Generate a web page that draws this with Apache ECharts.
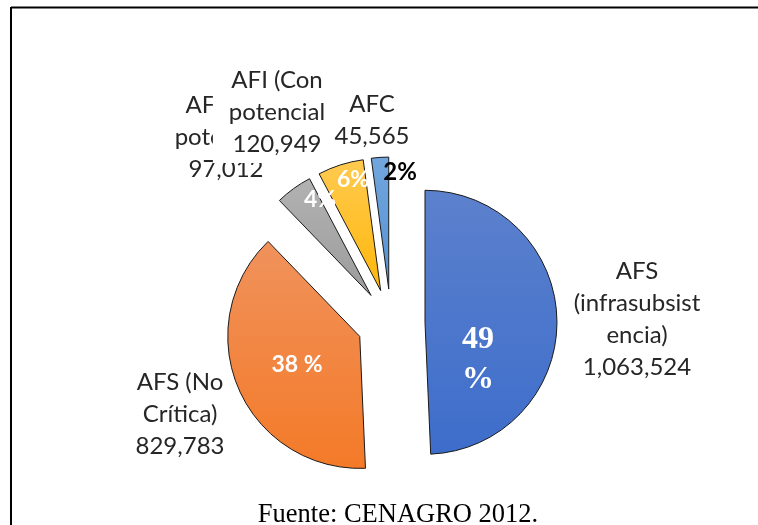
<!DOCTYPE html>
<html>
<head>
<meta charset="utf-8">
<script src="https://cdn.jsdelivr.net/npm/echarts@6/dist/echarts.min.js"></script>
<style>
  html, body { margin: 0; padding: 0; background: #fff; }
  #chart { width: 758px; height: 525px; }
</style>
</head>
<body>
<div id="chart"></div>
<script>
// ---- data ----
const categories = ['AFS\n(infrasubsist\nencia)', 'AFS (No\nCrítica)', 'AFI (Sin\npotencial)', 'AFI (Con\npotencial', 'AFC'];
const values = [1063524, 829783, 97012, 120949, 45565];
const sourceText = 'Fuente: CENAGRO 2012.';

// ---- styles ----
const gradients = [
  ['#5c81cd', '#3d6dcb'],
  ['#f0925c', '#f47a28'],
  ['#b2b2b2', '#9c9c9c'],
  ['#ffca50', '#ffb70a'],
  ['#72a6dd', '#5492d2']
];
const pctColors = ['#fff', '#fff', '#fff', '#fff', '#000'];
const pctFonts = ['Liberation Serif', 'Lato', 'Lato', 'Lato', 'Lato'];
const pctSizes = [32, 23, 23, 23, 24];
const pctPos = [[478, 360], [297, 365], [320, 200], [353, 180], [400, 172]];
const outPos = [[637, 319], [180, 414], [226, 137], [272, 112], [372, 120]];
const outPad = [[0, 0, 0, 0], [0, 0, 0, 0], [0, 0, 0, 0], [2, 6, 4, 16], [2, 6, 2, 6]];

const total = values.reduce((a, b) => a + b, 0);
function pctText(i) {
  const p = Math.round(values[i] / total * 100);
  if (i === 0) return p + '\n%';
  if (i === 1) return p + ' %';
  return p + '%';
}
function grad(c) {
  return { type: 'linear', x: 0, y: 0, x2: 0, y2: 1, colorStops: [{ offset: 0, color: c[0] }, { offset: 1, color: c[1] }] };
}

const mainData = values.map((v, i) => ({
  name: categories[i],
  value: v,
  selected: true,
  itemStyle: { color: grad(gradients[i]) }
}));

const labelData = values.map((v, i) => ({
  name: categories[i],
  value: v,
  label: (i === 3 || i === 4) ? { backgroundColor: '#fff', padding: outPad[i] } : {}
}));

const pctData = values.map((v, i) => ({
  name: categories[i],
  value: v,
  label: {
    color: pctColors[i],
    fontFamily: pctFonts[i],
    fontSize: pctSizes[i],
    fontWeight: 'bold',
    lineHeight: i === 0 ? 40 : 28
  }
}));

const chart = echarts.init(document.getElementById('chart'), null, { renderer: 'canvas' });
chart.setOption({
  animation: false,
  backgroundColor: '#fff',
  title: {
    text: sourceText,
    left: 393,
    textAlign: 'center',
    top: 497,
    textStyle: { fontFamily: 'Liberation Serif', fontSize: 26.5, fontWeight: 'normal', color: '#000' }
  },
  graphic: [
    { type: 'line', shape: { x1: 11, y1: 7.5, x2: 758, y2: 7.5 }, style: { stroke: '#000', lineWidth: 2 } },
    { type: 'line', shape: { x1: 11, y1: 7, x2: 11, y2: 525 }, style: { stroke: '#000', lineWidth: 2 } }
  ],
  series: [
    {
      type: 'pie',
      center: [391, 323],
      radius: [0, 132],
      startAngle: 90,
      clockwise: true,
      selectedMode: 'multiple',
      selectedOffset: 34,
      avoidLabelOverlap: false,
      itemStyle: { borderColor: '#1a1a1a', borderWidth: 1 },
      emphasis: { disabled: true },
      select: { itemStyle: { borderColor: '#1a1a1a', borderWidth: 1 } },
      label: { show: false },
      labelLine: { show: false },
      data: mainData
    },
    {
      type: 'pie',
      center: [391, 323],
      radius: [0, 132],
      startAngle: 90,
      silent: true,
      avoidLabelOverlap: false,
      itemStyle: { color: 'rgba(0,0,0,0)', borderWidth: 0 },
      emphasis: { disabled: true },
      label: {
        show: true,
        position: 'outside',
        fontFamily: 'Lato',
        fontSize: 24,
        lineHeight: 32,
        color: '#262626',
        align: 'center',
        formatter: p => p.name + '\n' + p.value.toLocaleString('en-US')
      },
      labelLine: { show: false },
      labelLayout: p => ({ x: outPos[p.dataIndex][0], y: outPos[p.dataIndex][1], align: 'center', verticalAlign: 'middle' }),
      data: labelData
    },
    {
      type: 'pie',
      center: [391, 323],
      radius: [0, 132],
      startAngle: 90,
      silent: true,
      avoidLabelOverlap: false,
      itemStyle: { color: 'rgba(0,0,0,0)', borderWidth: 0 },
      emphasis: { disabled: true },
      label: {
        show: true,
        position: 'outside',
        align: 'center',
        formatter: p => pctText(p.dataIndex)
      },
      labelLine: { show: false },
      labelLayout: p => ({ x: pctPos[p.dataIndex][0], y: pctPos[p.dataIndex][1], align: 'center', verticalAlign: 'middle' }),
      data: pctData
    }
  ]
});
</script>
</body>
</html>
